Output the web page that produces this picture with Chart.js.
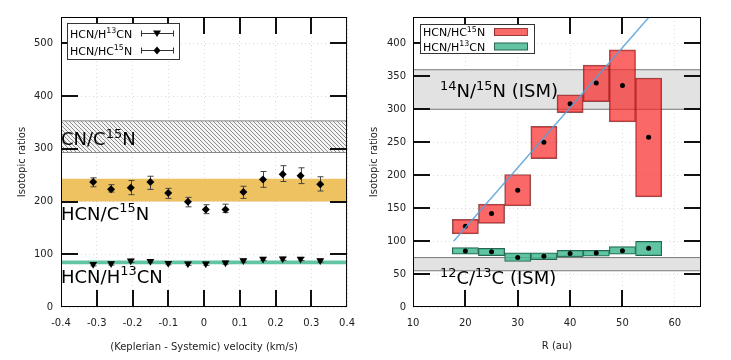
<!DOCTYPE html>
<html>
<head>
<meta charset="utf-8">
<script src="https://cdn.jsdelivr.net/npm/chart.js@4.4.0/dist/chart.umd.min.js"></script>
<style>
  body { margin: 0; background: #fff; }
  #wrap { position: relative; width: 731px; height: 360px; }
  canvas { position: absolute; top: 0; }
</style>
</head>
<body>
<div id="wrap">
  <canvas id="velChart" width="365" height="360" style="left:0;width:365px;height:360px"></canvas>
  <canvas id="radChart" width="366" height="360" style="left:365px;width:366px;height:360px"></canvas>
</div>
<script>
const FONT = "'DejaVu Sans', sans-serif";

// -------------------------------
// Left panel: ratio vs velocity -
// -------------------------------
const velocity = [-0.31, -0.26, -0.205, -0.15, -0.1, -0.045, 0.005, 0.06, 0.11, 0.165, 0.22, 0.27, 0.325];
const hc15nRatio = [237, 223.5, 226, 237, 216, 199.5, 185, 185, 218, 242, 252, 249, 233];
const hc15nLow = [228, 218, 213, 223, 206, 190, 177, 179, 206, 227, 238, 234, 220];
const hc15nHigh = [245, 232, 240, 248, 225, 208, 194, 195, 229, 257, 268, 264, 247];
const h13cnRatio = [81, 82.5, 87.5, 87, 83, 82, 82, 84, 88, 91, 91.5, 91, 88];
const h13cnLow = [78, 79.5, 84.5, 84, 80, 79, 79, 81, 85, 88, 88.5, 88, 85];
const h13cnHigh = [84, 85.5, 90.5, 90, 86, 85, 85, 87, 91, 94, 94.5, 94, 91];

const velRange = [-0.4, 0.4];
const velYRange = [0, 550];
const velXTicks = [-0.4, -0.3, -0.2, -0.1, 0, 0.1, 0.2, 0.3, 0.4];
const velYTicks = [0, 100, 200, 300, 400, 500];
const cnBand = [293, 353];
const hcnBand = [200, 243];
const h13Band = [81, 88];

// -------------------------------
// Right panel: ratio vs radius --
// -------------------------------
const radius = [20, 25, 30, 35, 40, 45, 50, 55];
const hc15nR = [122.5, 142, 177, 250, 308.5, 340, 336, 257.5];
const hc15nRLow = [111, 127, 153.5, 225, 295, 311.5, 281, 167];
const hc15nRHigh = [133, 156, 201, 274, 322, 367, 390, 347.5];
const h13cnR = [85, 84, 75, 77, 81, 82, 85.5, 89];
const h13cnRLow = [80, 78, 69, 72, 76, 77, 80, 78];
const h13cnRHigh = [90, 89, 82, 82, 86, 86, 91.5, 99.5];

const radRange = [10, 65];
const radYRange = [0, 440];
const radXTicks = [10, 20, 30, 40, 50, 60];
const radYTicks = [0, 50, 100, 150, 200, 250, 300, 350, 400];
const ismNBand = [300, 360];
const ismCBand = [55, 75];
const fitR = [17.8, 55.2];
const fitRatio = [100, 441];

// -------------------------------
// Helpers -----------------------
// -------------------------------
// "HCN/H^{13}CN" -> text with raised small digits
function drawRich(ctx, str, x, y, size) {
  const parts = str.split(/\^\{([^}]*)\}/);
  ctx.textBaseline = "alphabetic";
  ctx.textAlign = "left";
  let cx = x;
  parts.forEach((t, i) => {
    const sup = i % 2 === 1;
    ctx.font = (sup ? size * 0.72 : size) + "px " + FONT;
    ctx.fillText(t, cx, sup ? y - size * 0.4 : y);
    cx += ctx.measureText(t).width;
  });
  return cx - x;
}

function flatLine(xs, v) {
  return xs.map((x) => ({ x: x, y: v }));
}

function makeHatch(target) {
  const c = document.createElement("canvas");
  c.width = 4;
  c.height = 4;
  const g = c.getContext("2d");
  g.fillStyle = "#f4f4f4";
  g.fillRect(0, 0, 4, 4);
  g.strokeStyle = "#8c8c8c";
  g.lineWidth = 1;
  g.beginPath();
  g.moveTo(-1, -1); g.lineTo(5, 5);
  g.moveTo(-1, 3); g.lineTo(1, 5);
  g.moveTo(3, -1); g.lineTo(5, 1);
  g.stroke();
  return target.getContext("2d").createPattern(c, "repeat");
}

function fixTicks(values) {
  return function (scale) {
    scale.ticks = values.map((v) => ({ value: v }));
  };
}

// frame + inward tick marks on all four sides (gnuplot look)
function drawFrame(chart) {
  const ctx = chart.ctx;
  const a = chart.chartArea;
  const sx = chart.scales.x;
  const sy = chart.scales.y;
  const len = 17;
  ctx.save();
  ctx.fillStyle = "#111";
  sx.ticks.forEach((t, i) => {
    if (i === 0 || i === sx.ticks.length - 1) return;
    const px = Math.round(sx.getPixelForValue(t.value));
    ctx.fillRect(px - 1, a.bottom - len, 2, len);
    ctx.fillRect(px - 1, a.top, 2, len);
  });
  sy.ticks.forEach((t, i) => {
    if (i === 0) return;
    const py = Math.round(sy.getPixelForValue(t.value));
    ctx.fillRect(a.left, py - 1, len, 2);
    ctx.fillRect(a.right - len, py - 1, len, 2);
  });
  ctx.strokeStyle = "#000";
  ctx.lineWidth = 1;
  ctx.strokeRect(a.left + 0.5, a.top + 0.5, a.width - 1, a.height - 1);
  ctx.restore();
}

// vertical error bars, drawn just before their marker dataset
const errorBars = {
  id: "errorBars",
  beforeDatasetDraw(chart, args) {
    const ds = chart.data.datasets[args.index];
    if (!ds.errLow) return;
    const ctx = chart.ctx;
    const sx = chart.scales.x;
    const sy = chart.scales.y;
    ctx.save();
    ctx.strokeStyle = "#444";
    ctx.lineWidth = 1;
    ctx.beginPath();
    ds.data.forEach((p, i) => {
      const px = Math.round(sx.getPixelForValue(p.x)) + 0.5;
      const lo = sy.getPixelForValue(ds.errLow[i]);
      const hi = sy.getPixelForValue(ds.errHigh[i]);
      ctx.moveTo(px, lo); ctx.lineTo(px, hi);
      ctx.moveTo(px - 3, lo); ctx.lineTo(px + 3, lo);
      ctx.moveTo(px - 3, hi); ctx.lineTo(px + 3, hi);
    });
    ctx.stroke();
    ctx.restore();
  },
};

function drawMarker(ctx, style, x, y) {
  ctx.beginPath();
  if (style === "triangle") {
    ctx.moveTo(x - 4, y - 3); ctx.lineTo(x + 4, y - 3); ctx.lineTo(x, y + 3.5);
  } else {
    ctx.moveTo(x, y - 4); ctx.lineTo(x + 3.5, y); ctx.lineTo(x, y + 4); ctx.lineTo(x - 3.5, y);
  }
  ctx.closePath();
  ctx.fill();
}

const tickFont = { family: FONT, size: 10 };
const titleFont = { family: FONT, size: 10 };
const gridCfg = { color: "#dcdcdc", drawTicks: false };
const borderCfg = { display: false, dash: [1, 3] };

// -------------------------------
// Left chart --------------------
// -------------------------------
const velCanvas = document.getElementById("velChart");
const hatch = makeHatch(velCanvas);

const velLabels = {
  id: "velLabels",
  afterDraw(chart) {
    drawFrame(chart);
    const ctx = chart.ctx;
    ctx.save();
    ctx.fillStyle = "#000";
    drawRich(ctx, "CN/C^{15}N", 61, 145, 18);
    drawRich(ctx, "HCN/C^{15}N", 61, 219.5, 18);
    drawRich(ctx, "HCN/H^{13}CN", 61, 282.5, 18);

    // legend
    ctx.fillStyle = "#fff";
    ctx.fillRect(67, 23, 112, 36);
    ctx.strokeStyle = "#333";
    ctx.lineWidth = 1;
    ctx.strokeRect(67.5, 23.5, 112, 36);
    const rows = [
      { ds: chart.data.datasets[4], y: 33.5, style: "triangle" },
      { ds: chart.data.datasets[5], y: 50.5, style: "diamond" },
    ];
    rows.forEach((r) => {
      ctx.fillStyle = "#000";
      drawRich(ctx, r.ds.label, 70, r.y + 4, 11);
      ctx.strokeStyle = "#333";
      ctx.beginPath();
      ctx.moveTo(141, r.y); ctx.lineTo(174, r.y);
      ctx.moveTo(141.5, r.y - 3); ctx.lineTo(141.5, r.y + 3);
      ctx.moveTo(173.5, r.y - 3); ctx.lineTo(173.5, r.y + 3);
      ctx.stroke();
      drawMarker(ctx, r.style, 157, r.y);
    });
    ctx.restore();
  },
};

new Chart(velCanvas, {
  type: "scatter",
  data: {
    datasets: [
      {
        type: "line",
        label: "cn-low",
        data: flatLine(velRange, cnBand[0]),
        borderColor: "#8a8a8a",
        borderWidth: 1,
        pointRadius: 0,
        fill: false,
        order: 10,
      },
      {
        type: "line",
        label: "CN/C^{15}N",
        data: flatLine(velRange, cnBand[1]),
        borderColor: "#8a8a8a",
        borderWidth: 1,
        backgroundColor: hatch,
        pointRadius: 0,
        fill: "-1",
        order: 10,
      },
      {
        type: "line",
        label: "HCN/C^{15}N",
        data: flatLine(velRange, hcnBand[1]),
        borderColor: "rgba(0,0,0,0)",
        borderWidth: 0,
        backgroundColor: "rgba(236,180,62,0.82)",
        pointRadius: 0,
        fill: { value: hcnBand[0] },
        order: 10,
      },
      {
        type: "line",
        label: "HCN/H^{13}CN band",
        data: flatLine(velRange, h13Band[1]),
        borderColor: "rgba(0,0,0,0)",
        borderWidth: 0,
        backgroundColor: "rgba(80,190,152,0.9)",
        pointRadius: 0,
        fill: { value: h13Band[0] },
        order: 10,
      },
      {
        label: "HCN/H^{13}CN",
        data: velocity.map((v, i) => ({ x: v, y: h13cnRatio[i] })),
        errLow: h13cnLow,
        errHigh: h13cnHigh,
        pointStyle: "triangle",
        rotation: 180,
        pointRadius: 4.5,
        backgroundColor: "#000",
        borderColor: "#000",
        borderWidth: 0,
        order: 1,
      },
      {
        label: "HCN/HC^{15}N",
        data: velocity.map((v, i) => ({ x: v, y: hc15nRatio[i] })),
        errLow: hc15nLow,
        errHigh: hc15nHigh,
        pointStyle: "rectRot",
        pointRadius: 4,
        backgroundColor: "#000",
        borderColor: "#000",
        borderWidth: 0,
        order: 1,
      },
    ],
  },
  options: {
    responsive: false,
    animation: false,
    layout: { padding: { top: 17, right: 15, left: 0, bottom: 0 } },
    plugins: { legend: { display: false }, tooltip: { enabled: false } },
    scales: {
      x: {
        type: "linear",
        min: velRange[0],
        max: velRange[1],
        afterBuildTicks: fixTicks(velXTicks),
        afterFit: (s) => { s.height = 53; },
        grid: gridCfg,
        border: borderCfg,
        ticks: {
          font: tickFont,
          color: "#222",
          padding: 10,
          maxRotation: 0,
          callback: (v) => String(+v.toFixed(1)),
        },
        title: {
          display: true,
          text: "(Keplerian - Systemic) velocity (km/s)",
          font: titleFont,
          color: "#222",
          padding: { top: 0, bottom: 7 },
        },
      },
      y: {
        type: "linear",
        min: velYRange[0],
        max: velYRange[1],
        afterBuildTicks: fixTicks(velYTicks),
        afterFit: (s) => { s.width = 61; },
        grid: gridCfg,
        border: borderCfg,
        ticks: { font: tickFont, color: "#222", padding: 8 },
        title: {
          display: true,
          text: "Isotopic ratios",
          font: titleFont,
          color: "#222",
          padding: { top: 16, bottom: 0 },
        },
      },
    },
  },
  plugins: [errorBars, velLabels],
});

// -------------------------------
// Right chart -------------------
// -------------------------------
const radCanvas = document.getElementById("radChart");

const radLabels = {
  id: "radLabels",
  afterDraw(chart) {
    drawFrame(chart);
    const ctx = chart.ctx;
    ctx.save();
    ctx.fillStyle = "#000";
    drawRich(ctx, "^{14}N/^{15}N (ISM)", 75, 97, 18);
    drawRich(ctx, "^{12}C/^{13}C (ISM)", 75, 284, 18);

    // legend
    ctx.fillStyle = "#fff";
    ctx.fillRect(55, 24, 114, 29);
    ctx.strokeStyle = "#333";
    ctx.lineWidth = 1;
    ctx.strokeRect(55.5, 24.5, 114, 29);
    const rows = [
      { ds: chart.data.datasets[4], y: 32 },
      { ds: chart.data.datasets[5], y: 46.5 },
    ];
    rows.forEach((r) => {
      ctx.fillStyle = "#000";
      drawRich(ctx, r.ds.label, 58, r.y + 4, 11);
      ctx.fillStyle = r.ds.backgroundColor;
      ctx.fillRect(129, r.y - 3.5, 33, 7);
      ctx.strokeStyle = r.ds.borderColor;
      ctx.strokeRect(129.5, r.y - 3.5, 33, 7);
    });
    ctx.restore();
  },
};

const boxStyle = {
  type: "bar",
  grouped: false,
  barPercentage: 1,
  categoryPercentage: 1,
  borderWidth: 1,
  borderSkipped: false,
  order: 5,
};

new Chart(radCanvas, {
  type: "scatter",
  data: {
    datasets: [
      {
        type: "line",
        label: "ism-n-low",
        data: flatLine(radRange, ismNBand[0]),
        borderColor: "#7a7a7a",
        borderWidth: 1,
        pointRadius: 0,
        fill: false,
        order: 10,
      },
      {
        type: "line",
        label: "^{14}N/^{15}N (ISM)",
        data: flatLine(radRange, ismNBand[1]),
        borderColor: "#7a7a7a",
        borderWidth: 1,
        backgroundColor: "#e2e2e2",
        pointRadius: 0,
        fill: "-1",
        order: 10,
      },
      {
        type: "line",
        label: "ism-c-low",
        data: flatLine(radRange, ismCBand[0]),
        borderColor: "#7a7a7a",
        borderWidth: 1,
        pointRadius: 0,
        fill: false,
        order: 10,
      },
      {
        type: "line",
        label: "^{12}C/^{13}C (ISM)",
        data: flatLine(radRange, ismCBand[1]),
        borderColor: "#7a7a7a",
        borderWidth: 1,
        backgroundColor: "#e2e2e2",
        pointRadius: 0,
        fill: "-1",
        order: 10,
      },
      {
        ...boxStyle,
        label: "HCN/HC^{15}N",
        data: radius.map((r, i) => ({ x: r, y: [hc15nRLow[i], hc15nRHigh[i]] })),
        backgroundColor: "rgba(250,40,40,0.7)",
        borderColor: "rgba(110,20,20,0.75)",
      },
      {
        ...boxStyle,
        label: "HCN/H^{13}CN",
        data: radius.map((r, i) => ({ x: r, y: [h13cnRLow[i], h13cnRHigh[i]] })),
        backgroundColor: "rgba(70,186,146,0.85)",
        borderColor: "#2a6552",
      },
      {
        type: "line",
        label: "fit",
        data: fitR.map((r, i) => ({ x: r, y: fitRatio[i] })),
        borderColor: "rgba(85,160,215,0.85)",
        borderWidth: 1.5,
        pointRadius: 0,
        fill: false,
        order: 0,
      },
      {
        label: "hc15n-mid",
        data: radius.map((r, i) => ({ x: r, y: hc15nR[i] })),
        pointRadius: 2.5,
        backgroundColor: "#000",
        borderWidth: 0,
        order: 1,
      },
      {
        label: "h13cn-mid",
        data: radius.map((r, i) => ({ x: r, y: h13cnR[i] })),
        pointRadius: 2.5,
        backgroundColor: "#000",
        borderWidth: 0,
        order: 1,
      },
    ],
  },
  options: {
    responsive: false,
    animation: false,
    layout: { padding: { top: 17, right: 30, left: 0, bottom: 0 } },
    plugins: { legend: { display: false }, tooltip: { enabled: false } },
    scales: {
      x: {
        type: "linear",
        offset: false,
        min: radRange[0],
        max: radRange[1],
        afterBuildTicks: fixTicks(radXTicks),
        afterFit: (s) => { s.height = 53; },
        grid: { ...gridCfg, offset: false },
        border: borderCfg,
        ticks: { font: tickFont, color: "#222", padding: 10, maxRotation: 0 },
        title: {
          display: true,
          text: "R (au)",
          font: titleFont,
          color: "#222",
          padding: { top: 0, bottom: 8 },
        },
      },
      y: {
        type: "linear",
        min: radYRange[0],
        max: radYRange[1],
        afterBuildTicks: fixTicks(radYTicks),
        afterFit: (s) => { s.width = 48; },
        grid: gridCfg,
        border: borderCfg,
        ticks: { font: tickFont, color: "#222", padding: 7 },
        title: {
          display: true,
          text: "Isotopic ratios",
          font: titleFont,
          color: "#222",
          padding: { top: 3, bottom: 0 },
        },
      },
    },
  },
  plugins: [radLabels],
});
</script>
</body>
</html>
